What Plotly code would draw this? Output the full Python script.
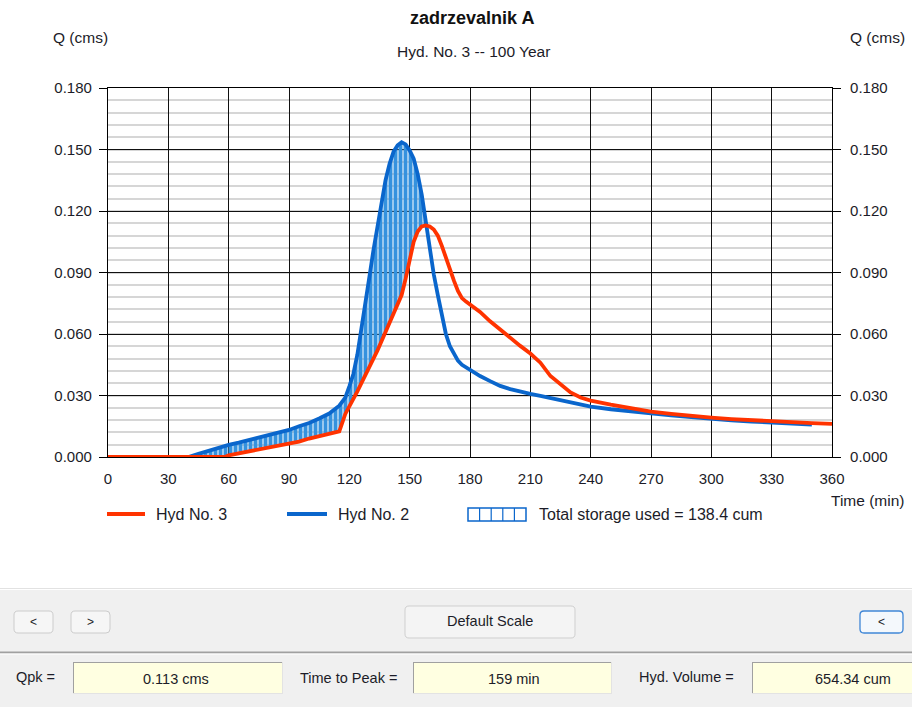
import plotly.graph_objects as go

# ---------------- data ----------------
time_min = [0, 10, 20, 30, 40, 45, 50, 55, 58, 60, 65, 70, 75, 80, 85, 90, 95, 100, 105, 110,
            115, 118, 120, 122, 124, 126, 128, 130, 132, 134, 136, 138, 140, 142, 144, 146, 148,
            150, 152, 154, 156, 158, 160, 162, 164, 166, 168, 170, 172, 174, 176, 178, 180, 185,
            190, 195, 200, 205, 210, 215, 220, 225, 230, 235, 240, 250, 260, 270, 280, 290, 300,
            310, 320, 330, 340, 350, 360]

# Hyd No. 2 (inflow)
hyd2 = [0, 0, 0, 0, 0, 0.0015, 0.0030, 0.0045, 0.0053, 0.0059, 0.0070, 0.0082, 0.0093, 0.0104,
        0.0117, 0.0132, 0.0150, 0.0166, 0.0188, 0.0212, 0.0250, 0.0290, 0.0345, 0.0405, 0.0500,
        0.0620, 0.0750, 0.0880, 0.1010, 0.1130, 0.1250, 0.1350, 0.1430, 0.1490, 0.1520, 0.1535,
        0.1525, 0.1495, 0.1455, 0.1380, 0.1280, 0.1150, 0.1010, 0.0890, 0.0790, 0.0690, 0.0600,
        0.0540, 0.0500, 0.0470, 0.0450, 0.0437, 0.0425, 0.0395, 0.0370, 0.0347, 0.0331, 0.0318,
        0.0308, 0.0298, 0.0288, 0.0278, 0.0267, 0.0256, 0.0246, 0.0233, 0.0222, 0.0212, 0.0203,
        0.0195, 0.0186, 0.0179, 0.0173, 0.0167, 0.0162, 0.0158, None]

# Hyd No. 3 (outflow)
hyd3 = [0, 0, 0, 0, 0, 0, 0, 0, 0, 0.0008, 0.0018, 0.0027, 0.0035, 0.0045, 0.0056, 0.0067,
        0.0075, 0.0090, 0.0102, 0.0113, 0.0125, 0.0210, 0.0245, 0.0280, 0.0320, 0.0360, 0.0400,
        0.0435, 0.0474, 0.0520, 0.0565, 0.0610, 0.0655, 0.0700, 0.0740, 0.0790, 0.0870, 0.0970,
        0.1050, 0.1100, 0.1125, 0.1130, 0.1125, 0.1110, 0.1080, 0.1030, 0.0970, 0.0910, 0.0860,
        0.0810, 0.0775, 0.0758, 0.0745, 0.0708, 0.0662, 0.0620, 0.0580, 0.0542, 0.0505, 0.0460,
        0.0395, 0.0352, 0.0315, 0.0290, 0.0275, 0.0255, 0.0236, 0.0221, 0.0210, 0.0200, 0.0192,
        0.0185, 0.0179, 0.0174, 0.0169, 0.0165, 0.0162]

x_ticks = list(range(0, 361, 30))
y_ticks = [0.0, 0.03, 0.06, 0.09, 0.12, 0.15, 0.18]

title_text = "zadrzevalnik A"
subtitle_text = "Hyd. No. 3 -- 100 Year"
legend_labels = ["Hyd No. 3", "Hyd No. 2", "Total storage used = 138.4 cum"]
info_labels = ["Qpk =", "Time to Peak =", "Hyd. Volume ="]
info_values = ["0.113 cms", "159 min", "654.34 cum"]

RED = "#ff3300"
BLUE = "#0a66cc"
HATCH = "#3592de"
FONT = "Liberation Sans, Arial, sans-serif"
TXT = "#1c1c28"

W, H = 912, 707
PL, PR, PT, PB = 108, 832, 88, 457


def px(x):
    return (x - PL) / (PR - PL)


def py(y):
    return (PB - y) / (PB - PT)


# storage hatch: between outflow and inflow where inflow is larger
h_t = [t for t, a in zip(time_min, hyd2) if a is not None]
h_up = [a for a in hyd2 if a is not None]
h_lo = [min(a, b) for a, b in zip(hyd2, hyd3) if a is not None]

fig = go.Figure()
fig.add_trace(go.Scatter(x=h_t, y=h_lo, mode="lines", line=dict(width=0, color="rgba(0,0,0,0)"),
                         showlegend=False, hoverinfo="skip"))
fig.add_trace(go.Scatter(x=h_t, y=h_up, mode="lines", line=dict(width=0, color="rgba(0,0,0,0)"),
                         fill="tonexty", fillcolor="rgba(0,0,0,0)",
                         fillpattern=dict(shape="|", fgcolor=HATCH, bgcolor="rgba(255,255,255,0)",
                                          size=5, solidity=0.8, fgopacity=1),
                         showlegend=False, hoverinfo="skip"))
fig.add_trace(go.Scatter(x=time_min, y=hyd2, mode="lines", name=legend_labels[1],
                         line=dict(color=BLUE, width=3.8), showlegend=False, connectgaps=False))
fig.add_trace(go.Scatter(x=time_min, y=hyd3, mode="lines", name=legend_labels[0],
                         line=dict(color=RED, width=3.8), showlegend=False))
# right-hand axis companion
fig.add_trace(go.Scatter(x=time_min, y=hyd3, yaxis="y2", mode="lines",
                         line=dict(width=0, color="rgba(0,0,0,0)"), showlegend=False,
                         hoverinfo="skip"))

shapes = []
annotations = []


def text(x, y, s, size=15, anchor="center", bold=False, color=TXT):
    annotations.append(dict(x=px(x), y=py(y), xref="paper", yref="paper", text=("<b>%s</b>" % s) if bold else s,
                            showarrow=False, xanchor=anchor, yanchor="middle",
                            font=dict(family=FONT, size=size, color=color)))


def rect(x0, y0, x1, y1, fill=None, line=None, lw=1):
    shapes.append(dict(type="rect", xref="paper", yref="paper", x0=px(x0), x1=px(x1),
                       y0=py(y1), y1=py(y0), fillcolor=fill or "rgba(0,0,0,0)",
                       line=dict(color=line or "rgba(0,0,0,0)", width=lw if line else 0),
                       layer="above"))


def seg(x0, y0, x1, y1, color, lw=1):
    shapes.append(dict(type="line", xref="paper", yref="paper", x0=px(x0), x1=px(x1),
                       y0=py(y0), y1=py(y1), line=dict(color=color, width=lw), layer="above"))


def rrect(x0, y0, x1, y1, r, fill, line, lw=1):
    def P(x, y):
        return "%f,%f" % (px(x), py(y))
    path = ("M " + P(x0 + r, y0) + " L " + P(x1 - r, y0) + " Q " + P(x1, y0) + " " + P(x1, y0 + r) +
            " L " + P(x1, y1 - r) + " Q " + P(x1, y1) + " " + P(x1 - r, y1) +
            " L " + P(x0 + r, y1) + " Q " + P(x0, y1) + " " + P(x0, y1 - r) +
            " L " + P(x0, y0 + r) + " Q " + P(x0, y0) + " " + P(x0 + r, y0) + " Z")
    shapes.append(dict(type="path", xref="paper", yref="paper", path=path, fillcolor=fill,
                       line=dict(color=line, width=lw), layer="above"))


# titles
text(472, 18, title_text, size=18, bold=True, color="#111111")
text(473, 51, subtitle_text, size=15.5)
text(80, 38, "Q (cms)", size=15.5)
text(877, 38, "Q (cms)", size=15.5)
text(906, 500, "Time (min)", size=15.5, anchor="right")

# legend
seg(107, 514, 145, 514, RED, 4)
text(154, 514, legend_labels[0], size=16, anchor="left")
seg(287, 514, 327, 514, BLUE, 4)
text(336, 514, legend_labels[1], size=16, anchor="left")
rect(468, 508, 526, 521, line=BLUE, lw=1.5)
for k in range(1, 5):
    xx = 468 + k * (526 - 468) / 5
    seg(xx, 508, xx, 521, BLUE, 1.2)
text(537, 514, legend_labels[2], size=16, anchor="left")

# bottom control panel
rect(0, 588, W, H, fill="#f0f0f0")
seg(0, 588.5, W, 588.5, "#e2e2e2", 1)
seg(0, 589.5, W, 589.5, "#ffffff", 1)
seg(0, 652.5, W, 652.5, "#a0a0a0", 2)
seg(0, 654, W, 654, "#ffffff", 1)
rrect(14, 611, 53, 633, 4, "#f6f6f6", "#cccccc")
text(33.5, 622, "&lt;", size=12)
rrect(71, 611, 110, 633, 4, "#f6f6f6", "#cccccc")
text(90.5, 622, "&gt;", size=12)
rrect(405, 606, 575, 638, 4, "#f4f4f4", "#cfcfcf")
text(490, 621, "Default Scale", size=14.5)
rrect(860, 611, 903, 633, 4, "#f4f8fc", "#3f86d6", 1.3)
text(881.5, 622, "&lt;", size=12)

boxes = [(73, 283, 176, 14, 677), (413, 612, 514, 298, 678), (752, 918, 853, 637, 677)]
for (bx0, bx1, tc, lx, ly), lab, val in zip(boxes, info_labels, info_values):
    text(lx, ly, lab, size=14.5, anchor="left")
    rect(bx0, 662, bx1, 694, fill="#ffffe1")
    seg(bx0, 662.5, bx1, 662.5, "#a0a0a0", 1)
    seg(bx0 + 0.5, 662, bx0 + 0.5, 694, "#a0a0a0", 1)
    seg(bx0, 693.5, bx1, 693.5, "#e3e3e3", 1)
    seg(bx1 - 0.5, 662, bx1 - 0.5, 694, "#e3e3e3", 1)
    text(tc, 679, val, size=14.5)

yaxis_common = dict(range=[0, 0.18], tickmode="array", tickvals=y_ticks, tickformat=".3f",
                    ticks="outside", ticklen=8, tickcolor="#000000", tickwidth=1,
                    showline=True, linecolor="#000000", linewidth=1.2,
                    tickfont=dict(family=FONT, size=15, color=TXT), fixedrange=True)

fig.update_layout(
    width=W, height=H, autosize=False,
    margin=dict(l=PL, r=W - PR, t=PT, b=H - PB, pad=0),
    paper_bgcolor="#ffffff", plot_bgcolor="#ffffff",
    showlegend=False,
    xaxis=dict(range=[0, 360], tickmode="array", tickvals=x_ticks, showgrid=True,
               gridcolor="#111111", gridwidth=1, showline=True, mirror=True,
               linecolor="#000000", linewidth=1.2, ticks="", zeroline=False,
               ticklabelstandoff=8,
               tickfont=dict(family=FONT, size=15, color=TXT), fixedrange=True),
    yaxis=dict(**yaxis_common, side="left", showgrid=True, gridcolor="#111111", gridwidth=1,
               zeroline=False, ticklabelstandoff=4,
               minor=dict(dtick=0.006, showgrid=True, gridcolor="#d6d6d6", gridwidth=1.6, ticks="")),
    yaxis2=dict(**yaxis_common, side="right", overlaying="y", showgrid=False, zeroline=False,
                ticklabelstandoff=6),
    shapes=shapes,
    annotations=annotations,
)

fig.write_html("out.html", config={"displayModeBar": False})
